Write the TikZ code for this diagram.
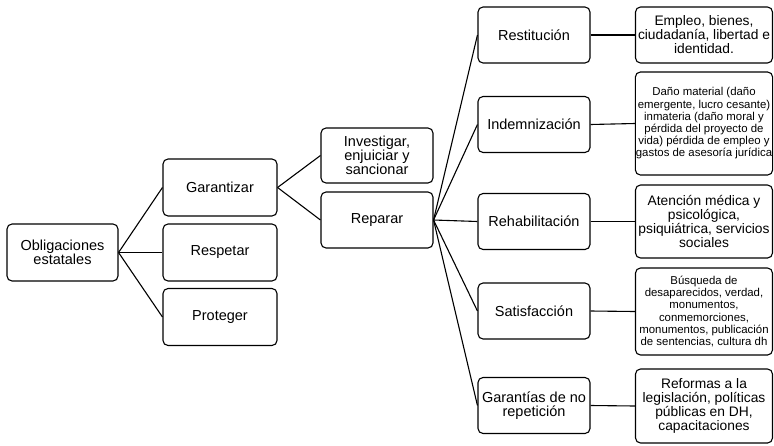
\documentclass[tikz,border=0pt]{standalone}
\usepackage{fontspec}
\setmainfont{Liberation Sans}
\usetikzlibrary{positioning}

\begin{document}
\begin{tikzpicture}[x=1pt,y=-1pt,
    caja/.style={draw, line width=1.1pt, rounded corners=5pt, align=center,
        inner sep=0.5pt, font=\fontsize{14.5}{14}\selectfont},
    cajon/.style={caja, font=\fontsize{13.8}{14}\selectfont},
    cajita/.style={caja, font=\fontsize{11.4}{12.2}\selectfont},
    rama/.style={line width=1.1pt}]
\useasboundingbox (0,0) rectangle (774,445);

% raiz
\node[caja, minimum width=111pt, minimum height=57pt] (oblig) at (62.5,252.5) {Obligaciones\\estatales};

% obligaciones
\foreach \n/\t/\y in {garant/Garantizar/187.5, respet/Respetar/252.5, proteg/Proteger/317}
{
    \node[caja, minimum width=114pt, minimum height=57pt] (\n) at (220,\y) {\t};
    \draw[rama] (oblig.east) -- (\n.west);
}

% garantizar
\node[caja, minimum width=112pt, minimum height=55pt] (invest) at (377,155.5) {Investigar,\\enjuiciar y\\sancionar};
\node[caja, minimum width=112pt, minimum height=56pt] (repar) at (377,220) {Reparar};
\draw[rama] (garant.east) -- (invest.west);
\draw[rama] (garant.east) -- (repar.west);

% formas de reparar
\foreach \n/\t/\y in {restit/Restitución/35, indem/Indemnización/124.5, rehab/Rehabilitación/221.5,
    satis/Satisfacción/311, norep/{Garantías de no\\repetición}/405.5}
{
    \node[caja, minimum width=112pt, minimum height=56pt] (\n) at (534,\y) {\t};
    \draw[rama] (repar.east) -- (\n.west);
}

% contenidos
\node[cajon, minimum width=137pt, minimum height=56pt] (cont1) at (704,35)
    {Empleo, bienes,\\ciudadanía, libertad e\\identidad.};
\node[cajita, minimum width=137pt, minimum height=103pt] (cont2) at (704,123.5)
    {Daño material (daño\\emergente, lucro cesante)\\inmateria (daño moral y\\pérdida del proyecto de\\vida) pérdida de empleo y\\gastos de asesoría jurídica};
\node[cajon, minimum width=137pt, minimum height=73pt] (cont3) at (704,221.5)
    {Atención médica y\\psicológica,\\psiquiátrica, servicios\\sociales};
\node[cajita, minimum width=137pt, minimum height=87pt] (cont4) at (704,311.5)
    {Búsqueda de\\desaparecidos, verdad,\\monumentos,\\conmemorciones,\\monumentos, publicación\\de sentencias, cultura dh};
\node[cajon, minimum width=137pt, minimum height=74pt] (cont5) at (704,406)
    {Reformas a la\\legislación, políticas\\públicas en DH,\\capacitaciones};

\draw[rama] (restit.east) -- (cont1.west);
\draw[rama] (indem.east) -- (cont2.west);
\draw[rama] (rehab.east) -- (cont3.west);
\draw[rama] (satis.east) -- (cont4.west);
\draw[rama] (norep.east) -- (cont5.west);
\end{tikzpicture}
\end{document}
